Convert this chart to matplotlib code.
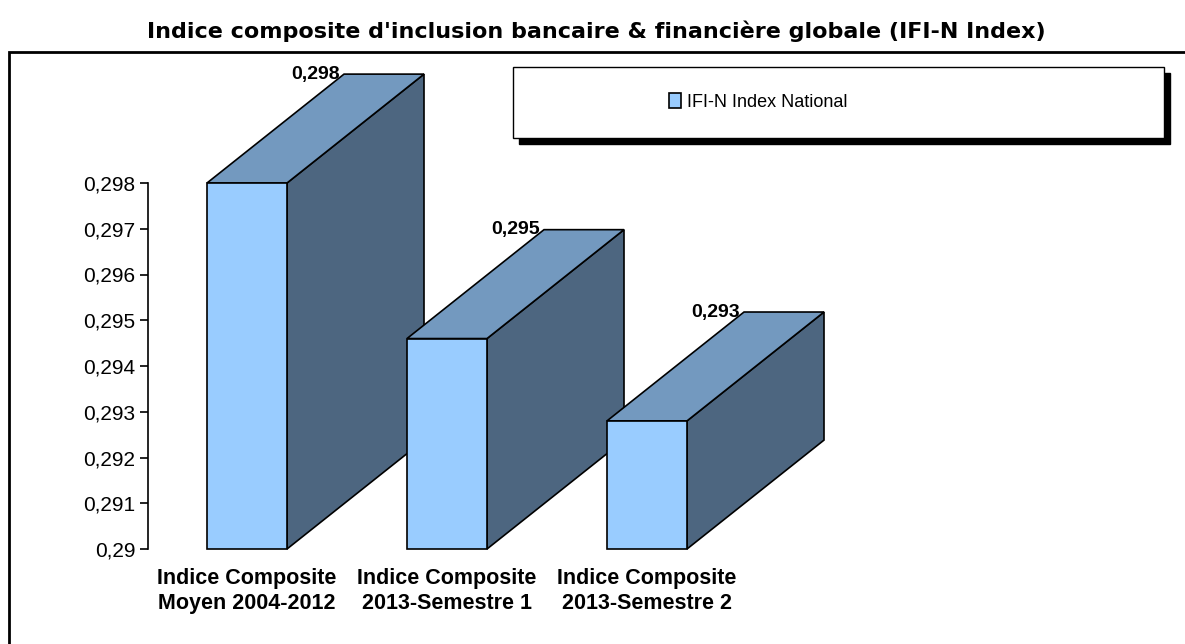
import matplotlib.pyplot as plt
from matplotlib.patches import Polygon, Rectangle, Patch
from matplotlib.ticker import FuncFormatter

# data
categories = ["Indice Composite\nMoyen 2004-2012",
              "Indice Composite\n2013-Semestre 1",
              "Indice Composite\n2013-Semestre 2"]
values = [0.2980, 0.2946, 0.2928]
series_name = "IFI-N Index National"
yticks = [0.290, 0.291, 0.292, 0.293, 0.294, 0.295, 0.296, 0.297, 0.298]
title = "Indice composite d'inclusion bancaire & financière globale (IFI-N Index)"

front_col = "#99CCFF"
top_col = "#7399BF"
side_col = "#4D6680"

W, H = 1185, 644
fig = plt.figure(figsize=(W / 100, H / 100), dpi=100)

# outer chart frame (right/bottom cropped in the original)
fig.add_artist(Rectangle((9 / W, -0.1), 1.2, (H - 52) / H + 0.1, transform=fig.transFigure,
                         facecolor="none", edgecolor="black", lw=2))

fig.text(596 / W, 1 - 31 / H, title, ha="center", va="center",
         fontsize=16, fontweight="bold", family="DejaVu Sans")

# plot area in pixels: axis line at x=148, y 0.29 -> 549, 0.298 -> 183
ax = fig.add_axes([148 / W, (H - 549) / H, 600 / W, (549 - 183) / H])
ax.set_xlim(-0.495, 2.505)
ax.set_ylim(0.290, 0.298)

bw = 0.4          # front face width
dx = 0.685        # depth offset (x units)
dy = 0.00238      # depth offset (y units)
base = 0.290

for i, v in enumerate(values):
    x0, x1 = i - bw / 2, i + bw / 2
    z = 2 + i
    side = Polygon([(x1, base), (x1 + dx, base + dy), (x1 + dx, v + dy), (x1, v)],
                   closed=True, facecolor=side_col, edgecolor="black", lw=1.2,
                   clip_on=False, zorder=z)
    top = Polygon([(x0, v), (x1, v), (x1 + dx, v + dy), (x0 + dx, v + dy)],
                  closed=True, facecolor=top_col, edgecolor="black", lw=1.2,
                  clip_on=False, zorder=z)
    front = Rectangle((x0, base), bw, v - base, facecolor=front_col,
                      edgecolor="black", lw=1.2, clip_on=False, zorder=z)
    ax.add_patch(side)
    ax.add_patch(top)
    ax.add_patch(front)
    ax.annotate(f"{v:.3f}".replace(".", ","), (x0 + dx, v + dy),
                xytext=(-3, 0), textcoords="offset points",
                ha="right", va="center", fontsize=14, fontweight="bold",
                family="Liberation Sans", zorder=10, annotation_clip=False)

ax.set_yticks(yticks)
ax.yaxis.set_major_formatter(FuncFormatter(lambda y, p: f"{y:g}".replace(".", ",")))
ax.tick_params(axis="y", length=6, width=1.2, pad=3, labelsize=15)
for lab in ax.get_yticklabels():
    lab.set_family("Liberation Sans")

ax.set_xticks(range(len(categories)))
ax.set_xticklabels(categories, fontsize=15.5, fontweight="bold",
                   family="Liberation Sans", linespacing=1.25)
ax.tick_params(axis="x", length=0, pad=14)

for s in ["top", "right", "bottom"]:
    ax.spines[s].set_visible(False)
ax.spines["left"].set_linewidth(1.2)
ax.patch.set_visible(False)

# legend box with drop shadow
lx0, ly0, lx1, ly1 = 513, 67, 1164, 138
fig.add_artist(Rectangle(((lx0 + 6) / W, 1 - (ly1 + 6) / H), (lx1 - lx0) / W, (ly1 - ly0) / H,
                         transform=fig.transFigure, facecolor="black", edgecolor="black", lw=1))
fig.add_artist(Rectangle((lx0 / W, 1 - ly1 / H), (lx1 - lx0) / W, (ly1 - ly0) / H,
                         transform=fig.transFigure, facecolor="white", edgecolor="black", lw=1))
handle = Patch(facecolor=front_col, edgecolor="black", lw=1.2, label=series_name)
fig.legend(handles=[handle], loc="center", bbox_to_anchor=(758 / W, 1 - 102 / H),
           frameon=False, prop={"family": "Liberation Sans", "size": 13},
           handlelength=0.7, handleheight=0.9, handletextpad=0.3)

plt.savefig("out.png", dpi=100)
